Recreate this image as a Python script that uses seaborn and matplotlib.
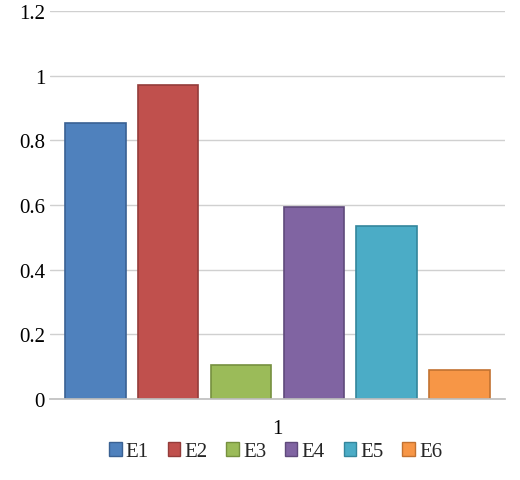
import matplotlib
matplotlib.use("Agg")
import matplotlib.pyplot as plt
import pandas as pd
import seaborn as sns

groups = ["1"] * 6
series = ["E1", "E2", "E3", "E4", "E5", "E6"]
values = [0.855, 0.97, 0.105, 0.595, 0.535, 0.09]
colors = ["#4f81bd", "#c0504d", "#9bbb59", "#8064a2", "#4bacc6", "#f79646"]
edges = ["#3a6193", "#943c3a", "#76903f", "#5f4a7b", "#34869c", "#c27231"]

df = pd.DataFrame({"group": groups, "series": series, "value": values})

sns.set_theme(style="white")
plt.rcParams["font.family"] = ["Liberation Serif", "DejaVu Serif"]

fig = plt.figure(figsize=(5.2, 4.81), dpi=100)
ax = fig.add_axes([0.096, 0.168, 0.875, 0.807])
sns.barplot(data=df, x="group", y="value", hue="series", palette=colors,
            saturation=1, width=0.96, gap=0.17, ax=ax, legend=False)
for bar, ec in zip(ax.patches, edges):
    bar.set_edgecolor(ec)
    bar.set_linewidth(1.2)

ax.set_ylim(0, 1.2)
ax.set_yticks([0, 0.2, 0.4, 0.6, 0.8, 1.0, 1.2])
ax.set_yticklabels(["0", "0.2", "0.4", "0.6", "0.8", "1", "1.2"])
ax.yaxis.grid(True, color="#d0d0d0", linewidth=1)
ax.set_axisbelow(True)
for s in ["top", "right", "left"]:
    ax.spines[s].set_visible(False)
ax.spines["bottom"].set_color("#c0c0c0")
ax.tick_params(axis="both", labelsize=15, length=0, colors="black")
ax.tick_params(axis="x", pad=14)
ax.set_xlabel("")
ax.set_ylabel("")

handles = [plt.Rectangle((0, 0), 1, 1, facecolor=c, edgecolor=e) for c, e in zip(colors, edges)]
fig.legend(handles, series, loc="lower center", ncol=6, frameon=False,
           fontsize=15, handlelength=0.6, handleheight=0.6, handletextpad=0.2,
           columnspacing=0.9, bbox_to_anchor=(0.53, 0.0))

fig.savefig("out.png", dpi=100)
